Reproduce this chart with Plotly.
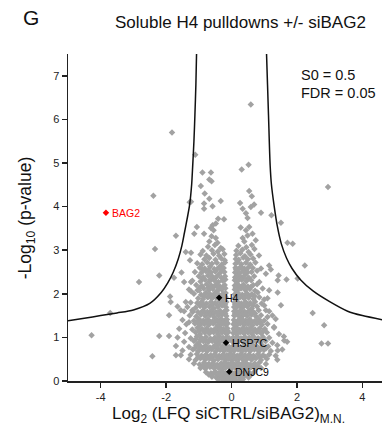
import plotly.graph_objects as go

# ---------------- data ----------------
# background proteins: (log2 ratio, -log10 p)
protein_points = [
    # upper scattered proteins
    (0.59, 6.34), (-1.82, 5.70), (-1.11, 5.19), (0.52, 4.96), (0.31, 4.85), (2.95, 4.45),
    (-2.39, 4.25), (-1.28, 4.10), (-0.89, 4.78), (-0.63, 4.78), (-0.61, 4.58), (-0.68, 4.62),
    (-0.94, 4.47), (-0.82, 4.30), (-0.68, 4.18), (-1.24, 4.11), (-0.33, 4.13), (-0.84, 4.07),
    (-0.58, 4.01), (-0.84, 3.95), (0.54, 4.36), (0.62, 4.24), (0.26, 4.08), (0.69, 4.05),
    (0.34, 3.95), (0.59, 3.99), (0.90, 3.86), (1.22, 3.80), (0.44, 3.85), (0.49, 3.74),
    (1.51, 3.63), (0.28, 3.52), (0.54, 3.53), (0.64, 3.38), (0.44, 3.46), (0.34, 3.28),
    (0.49, 3.34), (0.39, 3.20), (0.74, 3.23), (1.87, 3.15), (-0.41, 3.72), (-0.23, 3.71),
    (-0.58, 3.57), (-0.48, 3.61), (-1.06, 3.53), (-0.63, 3.51), (-1.70, 3.33), (-1.14, 3.38),
    (-0.84, 3.38), (-0.55, 3.46), (-0.61, 3.32), (-0.48, 3.28), (-0.68, 3.20), (-0.43, 3.17),
    (-2.34, 3.03), (-1.40, 2.96), (-1.24, 2.94), (-1.27, 2.77), (-1.53, 2.49), (-1.76, 2.37),
    (-2.21, 2.42), (-2.83, 2.27), (-1.88, 1.94), (-1.86, 1.81), (-1.65, 1.71), (-1.91, 1.51),
    (-1.55, 1.62), (-1.40, 1.81), (-1.24, 2.06), (-1.45, 2.27), (-1.24, 2.27), (-1.04, 2.08),
    (-1.19, 1.58), (-3.71, 1.56), (-4.28, 1.05), (-2.21, 1.03), (-2.42, 0.57), (-1.91, 1.03),
    (-1.30, 1.35), (-1.55, 0.59),
    (1.71, 3.17), (2.24, 2.65), (1.15, 2.65), (1.44, 2.42), (1.68, 2.33), (2.02, 2.35),
    (1.41, 2.03), (2.48, 1.56), (2.83, 1.28), (2.75, 0.86), (2.95, 0.86), (0.84, 2.88),
    (0.90, 2.58), (1.05, 2.46), (1.00, 1.87), (1.05, 1.62), (1.20, 2.56), (1.41, 2.31),
    (1.15, 2.08), (1.51, 1.74), (1.10, 1.47), (1.30, 1.24), (1.61, 0.93), (1.41, 0.70),
    # lobes and dense core
    (-0.72, 3.08), (-0.51, 3.12), (-0.33, 3.05), (0.21, 3.10), (0.45, 3.07), (0.62, 3.12),
    (-0.88, 2.98), (-0.60, 3.00), (-0.42, 2.97), (-0.27, 3.02), (0.15, 2.99), (0.33, 3.01), (0.52, 2.96), (0.70, 3.03),
    (-0.95, 2.90), (-0.77, 2.88), (-0.55, 2.92), (-0.38, 2.87), (-0.22, 2.91), (0.14, 2.89), (0.27, 2.93), (0.41, 2.86), (0.58, 2.90),
    (-0.83, 2.79), (-0.68, 2.82), (-0.49, 2.78), (-0.31, 2.81), (-0.21, 2.77), (0.13, 2.80), (0.22, 2.78), (0.36, 2.83), (0.50, 2.79), (0.66, 2.81),
    (-1.05, 2.70), (-0.90, 2.68), (-0.74, 2.72), (-0.60, 2.69), (-0.45, 2.71), (-0.30, 2.67), (-0.20, 2.72), (0.12, 2.69), (0.19, 2.73), (0.30, 2.68), (0.44, 2.71), (0.57, 2.67), (0.73, 2.72),
    (-0.97, 2.60), (-0.82, 2.58), (-0.66, 2.62), (-0.53, 2.57), (-0.38, 2.61), (-0.24, 2.59), (0.12, 2.60), (0.20, 2.57), (0.28, 2.62), (0.39, 2.58), (0.52, 2.61), (0.65, 2.59),
    (-0.88, 2.55), (-0.71, 2.54), (-0.45, 2.56), (-0.30, 2.55), (0.14, 2.55), (0.33, 2.56), (0.45, 2.54),
    (-1.12, 2.50), (-0.92, 2.48), (-0.78, 2.52), (-0.63, 2.49), (-0.50, 2.51), (-0.36, 2.47), (-0.22, 2.50), (0.11, 2.49), (0.17, 2.52), (0.25, 2.47), (0.36, 2.51), (0.48, 2.48), (0.61, 2.50), (0.78, 2.53),
    (-1.00, 2.40), (-0.86, 2.38), (-0.72, 2.42), (-0.58, 2.39), (-0.44, 2.41), (-0.31, 2.37), (-0.20, 2.40), (0.11, 2.38), (0.18, 2.41), (0.27, 2.39), (0.40, 2.42), (0.53, 2.37), (0.69, 2.40),
    (-0.90, 2.35), (-0.64, 2.34), (-0.49, 2.36), (-0.25, 2.35), (0.14, 2.35), (0.23, 2.34), (0.36, 2.36), (0.50, 2.35),
    (-1.20, 2.30), (-0.95, 2.28), (-0.81, 2.32), (-0.67, 2.29), (-0.53, 2.31), (-0.40, 2.27), (-0.27, 2.30), (-0.19, 2.33), (0.10, 2.31), (0.18, 2.28), (0.31, 2.32), (0.45, 2.29), (0.60, 2.31), (0.85, 2.27),
    (-1.08, 2.20), (-0.90, 2.18), (-0.76, 2.22), (-0.62, 2.19), (-0.48, 2.21), (-0.35, 2.17), (-0.21, 2.20), (0.10, 2.19), (0.16, 2.22), (0.24, 2.18), (0.36, 2.21), (0.50, 2.17), (0.66, 2.20), (0.78, 2.22),
    (-0.96, 2.15), (-0.70, 2.14), (-0.56, 2.16), (-0.42, 2.15), (-0.27, 2.15), (0.13, 2.15), (0.30, 2.16), (0.44, 2.14), (0.58, 2.15),
    (-1.30, 2.10), (-0.99, 2.08), (-0.85, 2.12), (-0.70, 2.09), (-0.57, 2.11), (-0.43, 2.07), (-0.30, 2.10), (-0.19, 2.13), (0.10, 2.10), (0.17, 2.08), (0.29, 2.12), (0.42, 2.09), (0.56, 2.11), (0.72, 2.07), (0.95, 2.12),
    (-1.15, 2.00), (-0.93, 1.98), (-0.79, 2.02), (-0.65, 1.99), (-0.51, 2.01), (-0.38, 1.97), (-0.26, 2.00), (-0.18, 2.02), (0.10, 1.99), (0.20, 2.02), (0.33, 1.98), (0.47, 2.01), (0.62, 1.99), (0.80, 2.03),
    (-0.85, 1.95), (-0.70, 1.94), (-0.56, 1.96), (-0.33, 1.95), (-0.22, 1.96), (0.12, 1.95), (0.24, 1.94), (0.41, 1.96), (0.55, 1.95), (0.70, 1.95),
    (-1.02, 1.90), (-0.87, 1.88), (-0.73, 1.92), (-0.60, 1.89), (-0.47, 1.91), (-0.27, 1.87), (-0.18, 1.92), (0.09, 1.90), (0.15, 1.88), (0.26, 1.92), (0.38, 1.89), (0.52, 1.91), (0.67, 1.88), (0.85, 1.92), (1.10, 1.90),
    (-1.25, 1.80), (-1.05, 1.79), (-0.91, 1.82), (-0.77, 1.78), (-0.63, 1.81), (-0.50, 1.79), (-0.36, 1.83), (-0.24, 1.78), (-0.16, 1.81), (0.09, 1.80), (0.18, 1.82), (0.30, 1.78), (0.43, 1.81), (0.57, 1.79), (0.72, 1.82), (0.92, 1.78),
    (-0.98, 1.75), (-0.84, 1.74), (-0.58, 1.76), (-0.44, 1.75), (-0.30, 1.76), (-0.20, 1.75), (0.11, 1.75), (0.26, 1.74), (0.40, 1.76), (0.52, 1.75), (0.66, 1.74),
    (-1.35, 1.70), (-1.10, 1.68), (-0.96, 1.72), (-0.82, 1.69), (-0.68, 1.71), (-0.55, 1.67), (-0.42, 1.70), (-0.29, 1.73), (-0.17, 1.69), (0.08, 1.70), (0.13, 1.68), (0.23, 1.72), (0.35, 1.69), (0.48, 1.71), (0.62, 1.67), (0.78, 1.71), (1.00, 1.73),
    (-1.45, 1.60), (-1.20, 1.62), (-1.03, 1.58), (-0.88, 1.61), (-0.74, 1.59), (-0.61, 1.62), (-0.48, 1.58), (-0.35, 1.61), (-0.23, 1.59), (-0.15, 1.62), (0.08, 1.60), (0.17, 1.58), (0.28, 1.62), (0.40, 1.59), (0.53, 1.61), (0.67, 1.58), (0.83, 1.62), (1.15, 1.60),
    (-0.95, 1.55), (-0.81, 1.56), (-0.68, 1.54), (-0.55, 1.55), (-0.42, 1.56), (-0.30, 1.55), (-0.19, 1.54), (0.11, 1.55), (0.21, 1.56), (0.33, 1.54), (0.45, 1.55), (0.58, 1.56), (0.72, 1.55),
    (-1.28, 1.50), (-1.08, 1.48), (-0.94, 1.52), (-0.80, 1.49), (-0.66, 1.51), (-0.53, 1.47), (-0.40, 1.50), (-0.28, 1.53), (-0.16, 1.49), (0.08, 1.50), (0.13, 1.52), (0.24, 1.48), (0.36, 1.51), (0.48, 1.49), (0.61, 1.52), (0.75, 1.48), (0.90, 1.51), (1.25, 1.50),
    (-1.50, 1.40), (-1.15, 1.38), (-1.00, 1.42), (-0.86, 1.39), (-0.72, 1.41), (-0.58, 1.37), (-0.45, 1.40), (-0.32, 1.43), (-0.20, 1.39), (-0.14, 1.41), (0.07, 1.40), (0.19, 1.38), (0.31, 1.42), (0.43, 1.39), (0.56, 1.41), (0.70, 1.37), (0.84, 1.41), (1.00, 1.39), (1.35, 1.42),
    (-1.05, 1.35), (-0.92, 1.36), (-0.78, 1.34), (-0.64, 1.35), (-0.51, 1.36), (-0.38, 1.35), (-0.25, 1.34), (-0.15, 1.35), (0.10, 1.35), (0.22, 1.36), (0.35, 1.34), (0.47, 1.35), (0.60, 1.36), (0.74, 1.35), (0.89, 1.34),
    (-1.38, 1.30), (-1.12, 1.32), (-0.97, 1.28), (-0.83, 1.31), (-0.69, 1.29), (-0.56, 1.32), (-0.43, 1.28), (-0.30, 1.31), (-0.18, 1.29), (-0.12, 1.32), (0.06, 1.30), (0.16, 1.28), (0.27, 1.32), (0.39, 1.29), (0.51, 1.31), (0.64, 1.28), (0.78, 1.32), (0.93, 1.29), (1.10, 1.31),
    (-1.60, 1.20), (-1.20, 1.18), (-1.04, 1.22), (-0.90, 1.19), (-0.76, 1.21), (-0.63, 1.17), (-0.50, 1.20), (-0.37, 1.23), (-0.25, 1.19), (-0.13, 1.21), (0.06, 1.20), (0.12, 1.22), (0.23, 1.18), (0.34, 1.21), (0.46, 1.19), (0.59, 1.22), (0.72, 1.18), (0.86, 1.21), (1.02, 1.19), (1.30, 1.22),
    (-0.98, 1.15), (-0.84, 1.16), (-0.70, 1.14), (-0.57, 1.15), (-0.44, 1.16), (-0.32, 1.15), (-0.21, 1.14), (-0.12, 1.15), (0.09, 1.15), (0.20, 1.16), (0.31, 1.14), (0.43, 1.15), (0.55, 1.16), (0.68, 1.15), (0.82, 1.14), (0.97, 1.15),
    (-1.42, 1.10), (-1.10, 1.12), (-0.96, 1.08), (-0.82, 1.11), (-0.68, 1.09), (-0.55, 1.12), (-0.42, 1.08), (-0.29, 1.11), (-0.17, 1.09), (-0.10, 1.12), (0.05, 1.10), (0.15, 1.08), (0.26, 1.12), (0.38, 1.09), (0.50, 1.11), (0.63, 1.08), (0.77, 1.12), (0.91, 1.09), (1.08, 1.11), (1.45, 1.08),
    (-1.65, 1.00), (-1.25, 0.98), (-1.06, 1.02), (-0.92, 0.99), (-0.78, 1.01), (-0.64, 0.97), (-0.51, 1.00), (-0.38, 1.03), (-0.26, 0.99), (-0.14, 1.01), (-0.07, 0.98), (0.05, 1.00), (0.17, 1.02), (0.29, 0.98), (0.41, 1.01), (0.54, 0.99), (0.67, 1.02), (0.81, 0.98), (0.96, 1.01), (1.15, 0.99), (1.60, 1.02),
    (-1.10, 0.95), (-0.95, 0.96), (-0.80, 0.94), (-0.66, 0.95), (-0.53, 0.96), (-0.41, 0.95), (-0.30, 0.94), (-0.19, 0.95), (-0.09, 0.96), (0.01, 0.95), (0.10, 0.94), (0.21, 0.95), (0.33, 0.96), (0.45, 0.95), (0.57, 0.94), (0.70, 0.95), (0.84, 0.96), (1.00, 0.95),
    (-1.45, 0.90), (-1.15, 0.92), (-1.00, 0.88), (-0.86, 0.91), (-0.72, 0.89), (-0.59, 0.92), (-0.46, 0.88), (-0.33, 0.91), (-0.22, 0.89), (-0.11, 0.92), (0.03, 0.90), (0.13, 0.88), (0.24, 0.92), (0.36, 0.89), (0.48, 0.91), (0.61, 0.88), (0.74, 0.92), (0.88, 0.89), (1.04, 0.91), (1.25, 0.88), (1.70, 0.90),
    (-1.70, 0.80), (-1.30, 0.78), (-1.08, 0.82), (-0.94, 0.79), (-0.80, 0.81), (-0.66, 0.77), (-0.53, 0.80), (-0.40, 0.83), (-0.28, 0.79), (-0.17, 0.81), (-0.07, 0.78), (0.05, 0.80), (0.16, 0.82), (0.28, 0.78), (0.40, 0.81), (0.53, 0.79), (0.66, 0.82), (0.80, 0.78), (0.95, 0.81), (1.12, 0.79), (1.40, 0.82),
    (-1.12, 0.75), (-0.97, 0.76), (-0.83, 0.74), (-0.70, 0.75), (-0.57, 0.76), (-0.44, 0.75), (-0.31, 0.74), (-0.20, 0.75), (-0.10, 0.76), (0.00, 0.75), (0.11, 0.74), (0.23, 0.75), (0.36, 0.76), (0.49, 0.75), (0.62, 0.74), (0.76, 0.75), (0.91, 0.76), (1.06, 0.75),
    (-1.50, 0.70), (-1.18, 0.72), (-1.02, 0.68), (-0.88, 0.71), (-0.74, 0.69), (-0.61, 0.72), (-0.48, 0.68), (-0.35, 0.71), (-0.23, 0.69), (-0.12, 0.72), (-0.02, 0.68), (0.09, 0.70), (0.20, 0.72), (0.32, 0.68), (0.44, 0.71), (0.57, 0.69), (0.70, 0.72), (0.84, 0.68), (0.99, 0.71), (1.20, 0.69), (1.55, 0.72),
    (-1.70, 0.59), (-1.25, 0.60), (-1.06, 0.62), (-0.92, 0.58), (-0.78, 0.61), (-0.64, 0.59), (-0.51, 0.62), (-0.38, 0.58), (-0.26, 0.61), (-0.15, 0.59), (-0.05, 0.62), (0.06, 0.60), (0.17, 0.58), (0.29, 0.62), (0.41, 0.59), (0.54, 0.61), (0.67, 0.58), (0.81, 0.62), (0.96, 0.59), (1.15, 0.61), (1.35, 0.58),
    (-1.02, 0.55), (-0.88, 0.56), (-0.74, 0.54), (-0.60, 0.55), (-0.47, 0.56), (-0.34, 0.55), (-0.22, 0.54), (-0.11, 0.55), (-0.01, 0.56), (0.10, 0.55), (0.21, 0.54), (0.33, 0.55), (0.45, 0.56), (0.58, 0.55), (0.72, 0.54), (0.87, 0.55), (1.02, 0.56),
    (-1.30, 0.50), (-1.10, 0.48), (-0.95, 0.52), (-0.81, 0.49), (-0.67, 0.51), (-0.54, 0.47), (-0.41, 0.50), (-0.29, 0.53), (-0.18, 0.49), (-0.08, 0.51), (0.03, 0.48), (0.13, 0.50), (0.24, 0.52), (0.36, 0.48), (0.48, 0.51), (0.61, 0.49), (0.75, 0.52), (0.90, 0.48), (1.08, 0.51), (1.40, 0.49),
    (-1.15, 0.40), (-0.98, 0.38), (-0.84, 0.42), (-0.70, 0.39), (-0.57, 0.41), (-0.44, 0.37), (-0.32, 0.40), (-0.21, 0.43), (-0.11, 0.39), (-0.01, 0.41), (0.09, 0.38), (0.20, 0.42), (0.32, 0.39), (0.44, 0.41), (0.57, 0.37), (0.71, 0.40), (0.86, 0.43), (1.05, 0.39),
    (-0.88, 0.35), (-0.74, 0.36), (-0.61, 0.34), (-0.48, 0.35), (-0.36, 0.36), (-0.25, 0.35), (-0.14, 0.34), (-0.04, 0.35), (0.06, 0.36), (0.16, 0.35), (0.27, 0.34), (0.39, 0.35), (0.52, 0.36), (0.65, 0.35), (0.80, 0.34),
    (-0.95, 0.30), (-0.80, 0.28), (-0.66, 0.32), (-0.53, 0.29), (-0.41, 0.31), (-0.30, 0.27), (-0.19, 0.30), (-0.09, 0.33), (0.01, 0.29), (0.11, 0.31), (0.22, 0.28), (0.34, 0.32), (0.46, 0.29), (0.59, 0.31), (0.73, 0.28), (0.90, 0.30),
    (-0.78, 0.20), (-0.63, 0.18), (-0.50, 0.22), (-0.38, 0.19), (-0.27, 0.21), (-0.17, 0.17), (-0.02, 0.22), (0.08, 0.18), (0.19, 0.21), (0.31, 0.19), (0.43, 0.22), (0.56, 0.18), (0.70, 0.21),
    (-0.70, 0.15), (-0.56, 0.16), (-0.43, 0.14), (-0.31, 0.15), (-0.20, 0.16), (-0.10, 0.15), (0.00, 0.14), (0.10, 0.15), (0.21, 0.16), (0.33, 0.15), (0.46, 0.14), (0.60, 0.15),
    (-0.60, 0.10), (-0.47, 0.08), (-0.35, 0.12), (-0.24, 0.09), (-0.14, 0.11), (-0.05, 0.07), (0.05, 0.10), (0.15, 0.12), (0.26, 0.09), (0.38, 0.11), (0.52, 0.08),
    (-0.40, 0.03), (-0.28, 0.04), (-0.17, 0.02), (-0.08, 0.05), (0.02, 0.03), (0.12, 0.04), (0.23, 0.02), (0.35, 0.04),
]
bg_x = [p[0] for p in protein_points]
bg_y = [p[1] for p in protein_points]

# significance threshold curve (S0 = 0.5, FDR = 0.05)
curve_left_x = [-5.0, -4.5, -4.0, -3.5, -3.0, -2.5, -2.15, -1.95, -1.78, -1.63, -1.52, -1.44, -1.35, -1.28, -1.22, -1.19, -1.15, -1.12, -1.09, -1.07]
curve_left_y = [1.38, 1.44, 1.50, 1.56, 1.63, 1.78, 2.03, 2.25, 2.50, 2.80, 3.10, 3.40, 3.75, 4.05, 4.50, 4.90, 5.50, 6.10, 6.80, 7.50]
curve_right_x = [1.07, 1.10, 1.13, 1.18, 1.22, 1.30, 1.40, 1.52, 1.68, 1.85, 2.10, 2.50, 3.00, 3.55, 4.00, 4.65]
curve_right_y = [7.50, 6.80, 6.10, 4.95, 4.50, 4.03, 3.55, 3.15, 2.82, 2.58, 2.33, 2.06, 1.82, 1.60, 1.50, 1.40]

# highlighted proteins
hl_names = ["BAG2", "H4", "HSP7C", "DNJC9"]
hl_x = [-3.84, -0.38, -0.17, -0.07]
hl_y = [3.86, 1.91, 0.88, 0.21]
hl_colors = ["#ff0000", "#000000", "#000000", "#000000"]

x_ticks = [-4, -2, 0, 2, 4]
y_ticks = [0, 1, 2, 3, 4, 5, 6, 7]

FONT = "Arial, Liberation Sans, sans-serif"

fig = go.Figure()
fig.add_trace(go.Scatter(
    x=bg_x, y=bg_y, mode="markers",
    marker=dict(symbol="diamond", size=5, color="#a2a2a2", line=dict(width=0)),
    hoverinfo="skip", showlegend=False))
fig.add_trace(go.Scatter(
    x=curve_left_x, y=curve_left_y, mode="lines",
    line=dict(color="#111111", width=1.5, shape="spline", smoothing=0.8),
    hoverinfo="skip", showlegend=False))
fig.add_trace(go.Scatter(
    x=curve_right_x, y=curve_right_y, mode="lines",
    line=dict(color="#111111", width=1.5, shape="spline", smoothing=0.8),
    hoverinfo="skip", showlegend=False))
fig.add_trace(go.Scatter(
    x=hl_x, y=hl_y, mode="markers",
    marker=dict(symbol="diamond", size=5, color=hl_colors),
    hoverinfo="skip", showlegend=False))

annotations = []
for name, x, y, c in zip(hl_names, hl_x, hl_y, hl_colors):
    annotations.append(dict(x=x, y=y, xref="x", yref="y", text=name, showarrow=False,
                            xanchor="left", yanchor="middle", xshift=4,
                            font=dict(family=FONT, size=10.5, color=c)))

annotations += [
    dict(x=0.737, y=0.936, xref="paper", yref="paper", text="S0 = 0.5", showarrow=False,
         xanchor="left", yanchor="middle", font=dict(family=FONT, size=14.5, color="#111111")),
    dict(x=0.737, y=0.880, xref="paper", yref="paper", text="FDR = 0.05", showarrow=False,
         xanchor="left", yanchor="middle", font=dict(family=FONT, size=14.5, color="#111111")),
    dict(x=-0.1165, y=1.112, xref="paper", yref="paper", text="G", showarrow=False,
         xanchor="center", yanchor="middle", font=dict(family=FONT, size=21, color="#111111")),
    dict(x=0.55, y=1.095, xref="paper", yref="paper", text="Soluble H4 pulldowns +/- siBAG2",
         showarrow=False, xanchor="center", yanchor="middle",
         font=dict(family=FONT, size=17, color="#111111")),
    dict(x=0.51, y=-0.104, xref="paper", yref="paper",
         text="Log<sub>2</sub> (LFQ siCTRL/siBAG2)<sub>M.N.</sub>", showarrow=False,
         xanchor="center", yanchor="middle", font=dict(family=FONT, size=17, color="#111111")),
    dict(x=-0.131, y=0.5, xref="paper", yref="paper", text="-Log<sub>10</sub> (p-value)",
         showarrow=False, textangle=-90, xanchor="center", yanchor="middle",
         font=dict(family=FONT, size=17.5, color="#111111")),
]

fig.update_layout(
    width=382, height=437,
    margin=dict(l=68, r=0, t=54, b=56, pad=0),
    paper_bgcolor="white", plot_bgcolor="white",
    showlegend=False,
    font=dict(family=FONT, color="#111111"),
    annotations=annotations,
)
fig.update_xaxes(
    range=[-5, 4.6], tickvals=x_ticks, ticktext=[str(v) for v in x_ticks],
    showgrid=False, zeroline=False, showline=True, linecolor="#222222", linewidth=1.5,
    ticks="outside", ticklen=5, tickwidth=1.5, tickcolor="#222222",
    tickfont=dict(family=FONT, size=11, color="#222222"))
fig.update_yaxes(
    range=[0, 7.5], tickvals=y_ticks, ticktext=[str(v) for v in y_ticks],
    showgrid=False, zeroline=False, showline=True, linecolor="#222222", linewidth=1.5,
    ticks="outside", ticklen=5, tickwidth=1.5, tickcolor="#222222",
    tickfont=dict(family=FONT, size=11, color="#222222"))

fig.write_html("out.html", config={"displayModeBar": False, "staticPlot": True},
               post_script="document.body.style.margin='0';document.body.style.overflow='hidden';")
